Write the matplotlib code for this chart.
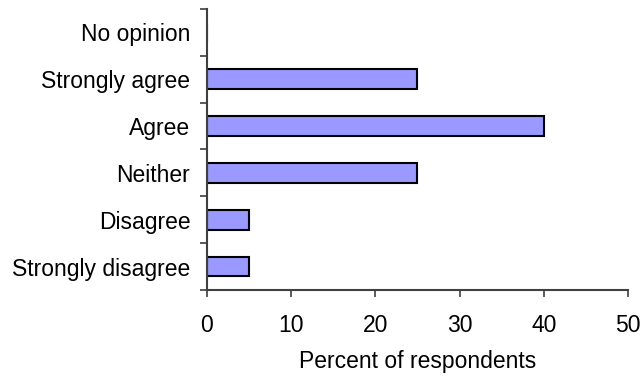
import numpy as np
import matplotlib
matplotlib.use('Agg')
import matplotlib.pyplot as plt

categories = ['Strongly disagree', 'Disagree', 'Neither', 'Agree', 'Strongly agree', 'No opinion']
percents = [5, 5, 25, 40, 25, 0]

plt.rcParams['font.family'] = ['Liberation Sans', 'DejaVu Sans']

fig = plt.figure(figsize=(6.42, 3.77), dpi=100)
ax = fig.add_axes([0.3224, 0.2308, 0.6556, 0.7454])

pos = np.arange(len(categories))
ax.barh(pos, percents, height=0.42, color='#9999ff', edgecolor='black', linewidth=1.5)

ax.set_xlim(0, 50)
ax.set_ylim(-0.5, len(categories) - 0.5)
ax.set_xticks(np.arange(0, 51, 10))

# tick marks sit between categories, labels sit on them
ax.set_yticks(np.arange(-0.5, len(categories), 1))
ax.set_yticklabels([])
ax.set_yticks(pos, minor=True)
ax.set_yticklabels(categories, minor=True)
ax.tick_params(axis='y', which='minor', length=0, pad=12, labelsize=16.5)
ax.tick_params(axis='y', which='major', length=5, width=1.2, color='#404040')
ax.tick_params(axis='x', length=5, width=1.2, color='#404040', pad=12, labelsize=16.5)

for s in ['top', 'right']:
    ax.spines[s].set_visible(False)
for s in ['left', 'bottom']:
    ax.spines[s].set_color('#404040')
    ax.spines[s].set_linewidth(1.5)

ax.set_xlabel('Percent of respondents', fontsize=16.5, labelpad=10)

fig.savefig('out.png', dpi=100)
